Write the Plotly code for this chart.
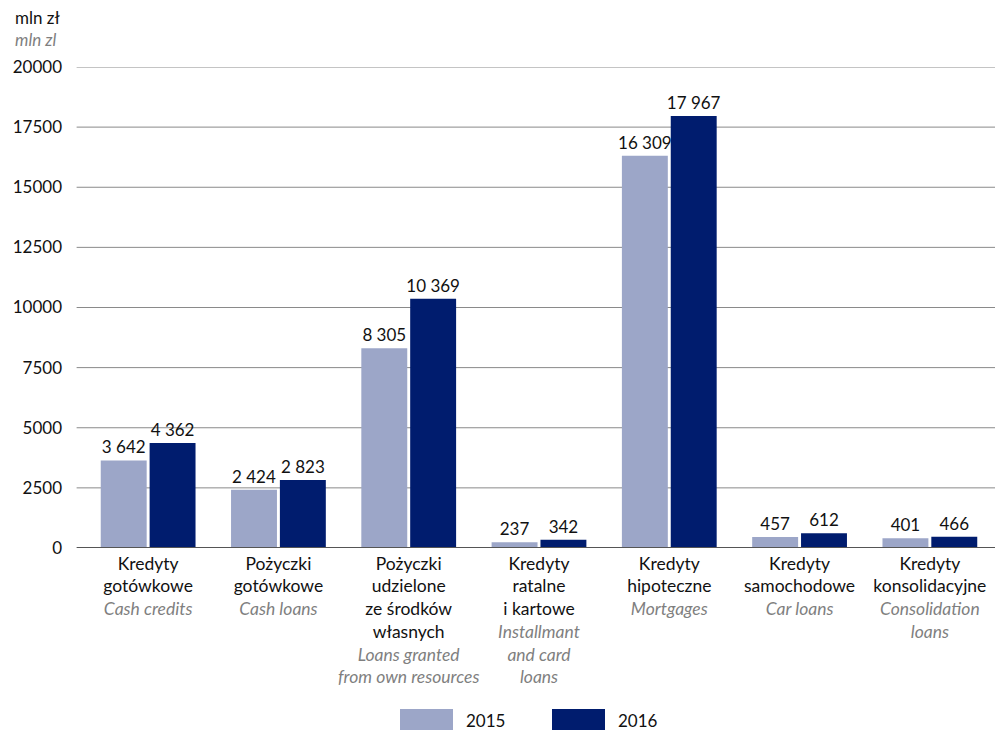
import plotly.graph_objects as go

categories = [
    "Kredyty<br>gotówkowe<br><i style='color:#7f7f7f'>Cash credits</i>",
    "Pożyczki<br>gotówkowe<br><i style='color:#7f7f7f'>Cash loans</i>",
    "Pożyczki<br>udzielone<br>ze środków<br>własnych<br><i style='color:#7f7f7f'>Loans granted</i><br><i style='color:#7f7f7f'>from own resources</i>",
    "Kredyty<br>ratalne<br>i kartowe<br><i style='color:#7f7f7f'>Installmant</i><br><i style='color:#7f7f7f'>and card</i><br><i style='color:#7f7f7f'>loans</i>",
    "Kredyty<br>hipoteczne<br><i style='color:#7f7f7f'>Mortgages</i>",
    "Kredyty<br>samochodowe<br><i style='color:#7f7f7f'>Car loans</i>",
    "Kredyty<br>konsolidacyjne<br><i style='color:#7f7f7f'>Consolidation</i><br><i style='color:#7f7f7f'>loans</i>",
]
values_2015 = [3642, 2424, 8305, 237, 16309, 457, 401]
values_2016 = [4362, 2823, 10369, 342, 17967, 612, 466]
series_names = ["2015", "2016"]
y_ticks = [0, 2500, 5000, 7500, 10000, 12500, 15000, 17500, 20000]

C15 = "#9ca6c8"
C16 = "#001c6e"
FONT = "Lato"

def fmt(v):
    return f"{v:,}".replace(",", " ")

fig = go.Figure()
for name, vals, col in [(series_names[0], values_2015, C15), (series_names[1], values_2016, C16)]:
    fig.add_trace(go.Bar(
        x=categories, y=vals, name=name, marker_color=col, marker_line_width=0,
        text=[fmt(v) for v in vals], textposition="outside", cliponaxis=False,
        constraintext="none",
        textfont=dict(size=17, color="#111111", family=FONT),
        showlegend=False,
    ))

shapes = []
for t in y_ticks[1:]:
    shapes.append(dict(type="line", xref="paper", yref="y", x0=-0.007, x1=1, y0=t, y1=t,
                       line=dict(color="#8a8a8a", width=1), layer="below"))
shapes.append(dict(type="line", xref="paper", yref="y", x0=-0.007, x1=1, y0=0, y1=0,
                   line=dict(color="#555555", width=2), layer="above"))

PW, PH = 912, 481
annotations = [
    dict(text="mln zł", xref="paper", yref="paper", x=(13 - 83) / PW, y=(548 - 17) / PH,
         xanchor="left", yanchor="middle", showarrow=False,
         font=dict(size=17, color="#111111", family=FONT)),
    dict(text="<i>mln zl</i>", xref="paper", yref="paper", x=(13 - 83) / PW, y=(548 - 40) / PH,
         xanchor="left", yanchor="middle", showarrow=False,
         font=dict(size=17, color="#7f7f7f", family=FONT)),
]
for i, (name, col) in enumerate(zip(series_names, [C15, C16])):
    x0 = 400 + i * 152
    shapes.append(dict(type="rect", xref="paper", yref="paper",
                       x0=(x0 - 83) / PW, x1=(x0 + 53 - 83) / PW,
                       y0=-(730 - 548) / PH, y1=-(709 - 548) / PH,
                       fillcolor=col, line_width=0))
    annotations.append(dict(text=name, xref="paper", yref="paper", x=(x0 + 64 - 83) / PW,
                            y=-(720 - 548) / PH, xanchor="left", yanchor="middle", showarrow=False,
                            font=dict(size=17, color="#111111", family=FONT)))

fig.update_layout(
    width=995, height=730,
    margin=dict(l=83, r=0, t=67, b=182),
    paper_bgcolor="white", plot_bgcolor="white",
    barmode="group", bargap=0.25, bargroupgap=0.06,
    font=dict(family=FONT, size=17, color="#111111"),
    shapes=shapes, annotations=annotations,
    xaxis=dict(showgrid=False, showline=False, ticks="", tickfont=dict(size=17.5, family=FONT),
               ticklabelstandoff=3),
    yaxis=dict(range=[0, 20000], tickvals=y_ticks, tickformat="d", showgrid=False, zeroline=False,
               showline=False, ticks="", tickfont=dict(size=17, family=FONT), ticklabelstandoff=20),
)
fig.write_html("out.html", config={"displayModeBar": False},
               post_script="document.body.style.margin='0';document.body.style.overflow='hidden';")
